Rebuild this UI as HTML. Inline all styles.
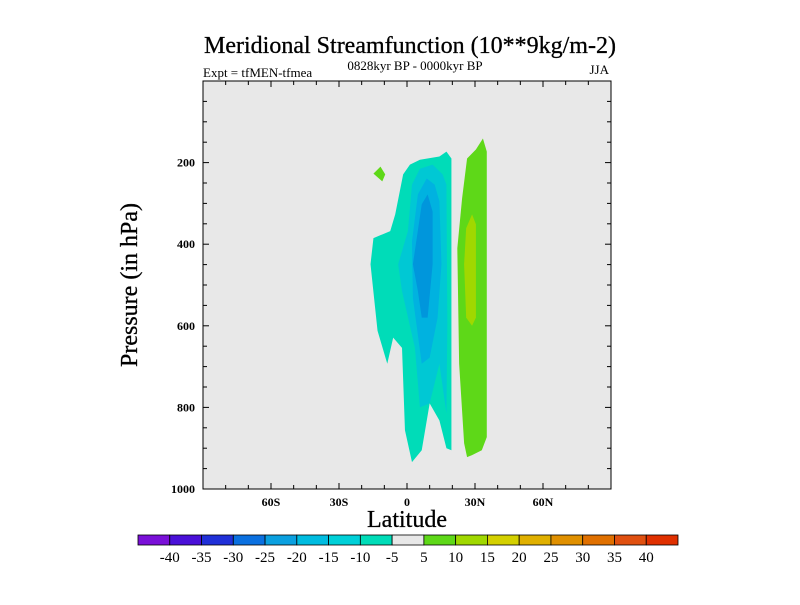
<!DOCTYPE html>
<html><head><meta charset="utf-8"><style>
body{margin:0;background:#fff;}
svg text{font-family:"Liberation Serif",serif;fill:#000;}
</style></head><body>
<svg id="c" width="800" height="600" xmlns="http://www.w3.org/2000/svg">
<text x="410" y="53" font-size="24" text-anchor="middle" stroke="#000" stroke-width="0.3">Meridional Streamfunction (10**9kg/m-2)</text>
<text x="203" y="77" font-size="13">Expt = tfMEN-tfmea</text>
<text x="415" y="70" font-size="13" text-anchor="middle">0828kyr BP - 0000kyr BP</text>
<text x="609" y="74" font-size="13" text-anchor="end">JJA</text>
<rect x="203" y="81" width="408" height="408" fill="#e8e8e8"/>
<g id="fills"></g>
<g id="axes"></g>
<rect x="203" y="81" width="408" height="408" fill="none" stroke="#000" stroke-width="1"/>
<text x="407" y="527" font-size="24" text-anchor="middle" stroke="#000" stroke-width="0.3">Latitude</text>
<text transform="translate(137,285) rotate(-90)" font-size="24" text-anchor="middle" stroke="#000" stroke-width="0.3">Pressure (in hPa)</text>
<g id="cbar"></g>
</svg>
<script>
const xTicks=[-60,-30,0,30,60];
const xTickLabels=["60S","30S","0","30N","60N"];
const yTicks=[200,400,600,800,1000];
const levels=[-40,-35,-30,-25,-20,-15,-10,-5,5,10,15,20,25,30,35,40];
const levelLabels=["-40","-35","-30","-25","-20","-15","-10","-5","5","10","15","20","25","30","35","40"];
const cbarColors=["#7a10d8","#4a10d8","#2030d8","#0a70e0","#0aa0e0","#00bce0","#00d0d8","#00dcb8","#e8e8e8","#5ed818","#a0d800","#d4d000","#e0b000","#e09000","#e07000","#e05010","#e03000"];
// contour regions: [lat, pressure] pairs
const regionMinus5=[[-14.8,385],[-7.4,368],[-5.2,327],[-1.7,229],[1.3,205],[5.7,193],[14.3,185],[17.4,173],[19.6,190],[19.6,905],[17.4,900],[14.3,832],[10,790],[6.5,905],[2.2,934],[-0.9,856],[-2.2,654],[-6.1,629],[-8.7,693],[-13,612],[-16.1,449]];
const regionMinus10=[[0.4,368],[2.2,254],[5.7,215],[11.3,205],[15.7,229],[17.4,254],[17.8,595],[17.4,815],[14.3,693],[10,790],[5.7,800],[3.5,654],[-2.2,515],[-3.9,449]];
const regionMinus15=[[2.2,393],[4.8,278],[8.7,239],[12.2,254],[14.3,295],[15.2,449],[13.5,580],[10,678],[6.5,693],[2.6,532]];
const regionMinus20=[[2.6,449],[6.5,302],[9.1,278],[11.3,320],[11.3,449],[9.1,580],[6.5,580],[4.8,515]];
const regionPlus5a=[[-14.8,227],[-11.7,210],[-9.6,229],[-10.9,246]];
const regionPlus5b=[[22.2,410],[24.3,288],[26.5,190],[30.4,168],[33.5,141],[35.2,173],[35.2,873],[33,905],[28.7,917],[26.5,922],[25.2,888],[23,693]];
const regionPlus10=[[26.1,361],[28.7,327],[30.4,351],[30.4,580],[28.7,600],[26.1,580],[25.2,449]];

const NS="http://www.w3.org/2000/svg";
const X0=203,X1=611,Y0=81,Y1=489;
const xs=v=>X0+(v+90)/180*(X1-X0);
const ys=p=>Y0+p/1000*(Y1-Y0);
function mk(tag,attrs,parent){const e=document.createElementNS(NS,tag);for(const k in attrs)e.setAttribute(k,attrs[k]);document.getElementById(parent).appendChild(e);return e;}
const regs=[[regionMinus5,"#00dcb8","contour-minus5"],[regionMinus10,"#00c8d4","contour-minus10"],[regionMinus15,"#00b2e0","contour-minus15"],[regionMinus20,"#0096dc","contour-minus20"],[regionPlus5a,"#5ed818","contour-plus5-small"],[regionPlus5b,"#5ed818","contour-plus5"],[regionPlus10,"#a0d800","contour-plus10"]];
regs.forEach(r=>{
 const e=mk("polygon",{points:r[0].map(p=>xs(p[0])+","+ys(p[1])).join(" "),fill:r[1]},"fills");
 
 
});
for(let v=-90;v<=90;v+=10){
 const x=xs(v),len=v%30===0?6:4;
 mk("line",{x1:x,y1:Y1,x2:x,y2:Y1-len,stroke:"#000"},"axes");
 mk("line",{x1:x,y1:Y0,x2:x,y2:Y0+len,stroke:"#000"},"axes");
}
for(let p=50;p<1000;p+=50){
 const y=ys(p),len=p%200===0?6:4;
 mk("line",{x1:X0,y1:y,x2:X0+len,y2:y,stroke:"#000"},"axes");
 mk("line",{x1:X1,y1:y,x2:X1-len,y2:y,stroke:"#000"},"axes");
}
xTicks.forEach((v,i)=>{
 const t=mk("text",{x:xs(v),y:Y1+17,"font-size":12,"font-weight":"bold","text-anchor":"middle"},"axes");
 t.textContent=xTickLabels[i];
 
 
});
yTicks.forEach(v=>{
 const t=mk("text",{x:X0-8,y:ys(v)+4,"font-size":12,"font-weight":"bold","text-anchor":"end"},"axes");
 t.textContent=v;
 
 
});
const CB0=138,CBW=540/17,CBY=535,CBH=10;
cbarColors.forEach((c,i)=>{
 const r=mk("rect",{x:CB0+i*CBW,y:CBY,width:CBW,height:CBH,fill:c,stroke:"#000","stroke-width":0.8},"cbar");
 
 
});
levels.forEach((v,i)=>{
 const t=mk("text",{x:CB0+(i+1)*CBW,y:CBY+27,"font-size":15,"text-anchor":"middle"},"cbar");
 t.textContent=levelLabels[i];
 
 
});
</script>
</body></html>
